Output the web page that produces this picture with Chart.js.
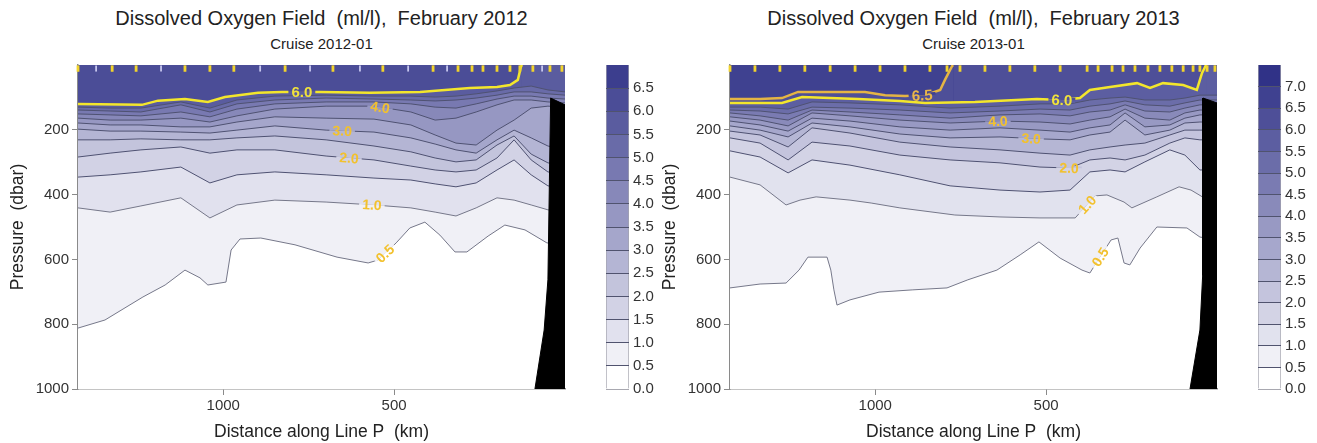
<!DOCTYPE html>
<html>
<head>
<meta charset="utf-8">
<script src="https://cdn.jsdelivr.net/npm/chart.js@4.4.1/dist/chart.umd.min.js"></script>
<style>
  html, body { margin: 0; padding: 0; background: #fff; overflow: hidden; }
  body { width: 1317px; height: 443px; position: relative; font-family: "Liberation Sans", Arial, sans-serif; }
  canvas { position: absolute; top: 0; }
  .title { position: absolute; text-align: center; color: #222; white-space: pre; }
  .t1 { top: 6px; font-size: 20px; line-height: 24px; }
  .t2 { top: 35px; font-size: 15px; line-height: 18px; }
</style>
</head>
<body>
<div class="title t1" style="left:0;width:643px">Dissolved Oxygen Field  (ml/l),  February 2012</div>
<div class="title t2" style="left:0;width:643px">Cruise 2012-01</div>
<div class="title t1" style="left:652px;width:643px">Dissolved Oxygen Field  (ml/l),  February 2013</div>
<div class="title t2" style="left:652px;width:643px">Cruise 2013-01</div>
<canvas id="sec2012" width="580" height="443" style="left:0"></canvas>
<canvas id="bar2012" width="64" height="443" style="left:600px"></canvas>
<canvas id="sec2013" width="580" height="443" style="left:652px"></canvas>
<canvas id="bar2013" width="64" height="443" style="left:1252px"></canvas>
<script>
const FONT = '"Liberation Sans", Arial, sans-serif';

// 軸
const xTicks = [1000, 500];
const yTicks = [200, 400, 600, 800, 1000];
const levels2012 = [0, 0.5, 1, 1.5, 2, 2.5, 3, 3.5, 4, 4.5, 5, 5.5, 6, 6.5, 7];
const levels2013 = [0, 0.5, 1, 1.5, 2, 2.5, 3, 3.5, 4, 4.5, 5, 5.5, 6, 6.5, 7, 7.5];

// ---- February 2012 (distance km, pressure dbar) ----
const grid12 = [1425, 1331, 1241, 1124, 1039, 960, 849, 699, 559, 451, 380, 319, 260, 199, 149, 99, 50, 0];
const o12_60 = [[1425,120],[1238,123],[1191,110],[1112,105],[1045,114],[995,99],[898,86],[828,83],[717,83],[571,86],[424,83],[278,71],[199,68],[161,62],[138,46],[129,6],[126,0],[0,0]];
const o12_55 = [130,133,133,114,133,108,96,93,96,96,99,96,89,80,71,65,77,83];
const o12_50 = [139,142,145,123,145,120,108,102,105,108,111,108,102,93,83,83,89,93];
const o12_45 = [151,154,157,145,160,136,120,114,114,120,130,133,120,105,96,96,102,105];
const o12_40 = [164,170,170,164,176,157,136,127,127,145,170,164,145,123,108,108,114,117];
const o12_35 = [179,185,185,191,191,176,160,164,167,185,216,241,247,201,170,133,127,130];
const o12_30 = [198,204,204,207,210,201,188,201,207,225,244,262,272,231,201,225,250,262];
const o12_25 = [231,231,228,231,231,225,219,231,250,268,287,299,293,247,219,275,302,312];
const o12_20 = [284,272,262,253,272,262,262,281,293,312,324,330,324,287,231,293,330,339];
const o12_15 = [346,339,330,315,364,339,330,339,349,355,367,376,364,324,293,339,373,380];
const o12_10 = [441,454,435,410,472,432,417,423,432,441,454,466,441,410,417,432,447,454];
const o12_05 = [[1425,812],[1346,787],[1235,716],[1170,679],[1112,633],[1068,657],[1045,679],[992,670],[977,571],[951,537],[890,534],[790,555],[667,593],[576,611],[547,602],[494,549],[454,503],[410,485],[366,525],[322,577],[287,577],[225,528],[176,494],[117,509],[53,549],[0,555]];
const slope12 = [[0,123],[42,102],[50,663],[61,818],[88,1000]];
const bottles12 = [1425,1325,1255,1112,1039,969,819,679,533,386,313,272,240,199,161,132,94,44,9];
const ctdOnly12 = [1372,1182,892,746,600,459,345,67];
const labels12 = [[6.0, 770], [4.0, 541], [3.0, 652], [2.0, 632], [1.0, 565], [0.5, 527]];

// ---- February 2013 ----
const grid13 = [1425, 1337, 1255, 1185, 1074, 928, 781, 635, 518, 430, 372, 313, 269, 211, 138, 94, 50, 0];
const o13_65 = [[1425,105],[1337,105],[1273,102],[1226,83],[1132,83],[1030,83],[971,93],[913,96],[854,93],[810,77],[796,46],[781,15],[775,3],[772,0],[0,0]];
const o13_60 = [[1425,117],[1337,117],[1273,117],[1214,99],[1132,102],[1050,105],[928,111],[854,117],[708,114],[527,105],[454,108],[401,102],[372,77],[313,68],[234,56],[196,71],[158,56],[99,62],[59,77],[44,25],[35,6],[32,0],[0,0]];
const o13_55 = [130,130,136,114,117,123,133,127,120,120,108,102,99,108,108,102,93,93];
const o13_50 = [139,142,151,130,133,139,148,142,136,139,127,120,111,123,127,117,108,108];
const o13_45 = [148,157,170,139,145,154,164,154,151,157,145,139,123,142,145,133,123,123];
const o13_40 = [160,170,188,148,157,170,179,173,176,182,170,160,136,164,170,148,139,139];
const o13_35 = [173,185,204,164,173,191,201,194,201,207,194,185,148,191,185,164,154,154];
const o13_30 = [188,201,222,179,191,213,225,222,228,231,216,207,170,216,201,179,176,176];
const o13_25 = [204,216,253,194,210,238,253,262,272,278,262,253,247,241,216,201,201,201];
const o13_20 = [225,241,293,238,250,278,293,302,315,318,293,287,293,278,241,225,231,231];
const o13_15 = [265,284,333,293,309,339,373,386,392,386,330,324,330,299,262,278,324,324];
const o13_10 = [[1425,346],[1337,370],[1261,432],[1220,417],[1173,407],[1074,417],[1012,426],[928,441],[767,463],[635,469],[518,472],[415,472],[357,404],[322,401],[272,423],[249,441],[176,407],[111,376],[76,386],[38,410],[0,417]];
const o13_05 = [[1425,688],[1337,676],[1261,673],[1223,633],[1197,593],[1141,593],[1130,633],[1121,694],[1112,741],[1074,725],[989,701],[890,694],[790,688],[729,663],[644,633],[576,586],[521,546],[459,596],[395,633],[372,642],[310,540],[290,534],[272,611],[255,617],[225,565],[176,500],[88,503],[50,531],[0,540]];
const slope13 = [[0,117],[41,102],[42,650],[50,818],[79,1000]];
const bottles13 = [1425,1352,1279,1206,1132,1059,986,913,840,790,752,679,606,533,459,380,348,307,275,240,202,167,132,99,70,50,29,6];
const ctdOnly13 = [];
const labels13 = [[6.5, 863], [6.0, 454], [4.0, 641], [3.0, 544], [2.0, 433], [1.0, 380], [0.5, 342]];

// 配色
function bandColors(n, end) {
    const out = [];
    for (let k = 0; k < n; k++) {
        const t = k / (n - 1);
        const c = [0, 1, 2].map(j => Math.round(255 + (end[j] - 255) * t));
        out.push(`rgb(${c[0]},${c[1]},${c[2]})`);
    }
    return out;
}
const colors12 = bandColors(levels2012.length - 1, [60, 62, 142]);
const colors13 = bandColors(levels2013.length - 1, [48, 50, 135]);

const onGrid = (grid, vals) => grid.map((d, i) => [d, vals[i]]);

// 等値線ラベル
function labelPlugin(items, colors) {
    return {
        id: 'contourLabels',
        afterDatasetsDraw(chart) {
            const ctx = chart.ctx;
            const xs = chart.scales.x, ys = chart.scales.y;
            items.forEach(([level, d]) => {
                const ds = chart.data.datasets.find(s => s.level === level);
                if (!ds) return;
                const pts = ds.data;
                let i = 0;
                while (i < pts.length - 2 && pts[i + 1].x > d) i++;
                const a = pts[i], b = pts[i + 1];
                const t = a.x === b.x ? 0 : (a.x - d) / (a.x - b.x);
                const p = a.y + (b.y - a.y) * t;
                const cx = xs.getPixelForValue(d), cy = ys.getPixelForValue(p);
                let ang = Math.atan2(ys.getPixelForValue(b.y) - ys.getPixelForValue(a.y),
                                     xs.getPixelForValue(b.x) - xs.getPixelForValue(a.x));
                if (ang > Math.PI / 2) ang -= Math.PI;
                if (ang < -Math.PI / 2) ang += Math.PI;
                const text = level.toFixed(1);
                ctx.save();
                ctx.font = `bold ${level >= 6 ? 15 : 14}px ${FONT}`;
                const w = ctx.measureText(text).width + 6;
                const h = (ds.borderWidth || 1) + 3;
                ctx.translate(cx, cy);
                ctx.rotate(ang);
                const k = Math.round(level * 2);
                ctx.fillStyle = colors[k];
                ctx.fillRect(-w / 2, -h / 2, w, h / 2);
                ctx.fillStyle = colors[k - 1];
                ctx.fillRect(-w / 2, 0, w, h / 2);
                ctx.fillStyle = level === 6.5 ? '#e8b64a' : (level === 6 ? '#f0e23c' : '#f2c12e');
                ctx.textAlign = 'center';
                ctx.textBaseline = 'middle';
                ctx.fillText(text, 0, 1);
                ctx.restore();
            });
        }
    };
}

function sectionChart(id, s) {
    const datasets = [];
    // 表層（最上位の帯）
    datasets.push({
        data: [{x: 1425, y: 0}, {x: 0, y: 0}],
        borderWidth: 0, pointRadius: 0,
        fill: {value: 1000}, backgroundColor: s.colors[s.topBand]
    });
    s.contours.forEach(c => {
        const k = Math.round(c.level * 2);
        datasets.push({
            level: c.level,
            data: c.pts.map(p => ({x: p[0], y: p[1]})),
            borderColor: c.color || (c.level <= 1 ? '#76788a' : '#4f5272'),
            borderWidth: c.width || 1,
            pointRadius: 0,
            fill: {value: 1000},
            backgroundColor: s.colors[k - 1],
            segment: {
                borderColor: ctx => (ctx.p0.parsed.y === 0 && ctx.p1.parsed.y === 0) ? 'rgba(0,0,0,0)' : undefined
            }
        });
    });
    // 陸棚斜面
    datasets.push({
        data: s.slope.map(p => ({x: p[0], y: p[1]})),
        borderColor: '#000', borderWidth: 1, pointRadius: 0,
        fill: {value: 1000}, backgroundColor: '#000'
    });
    // 観測点
    datasets.push({
        data: s.ctd.map(d => ({x: d, y: 11})),
        showLine: false, fill: false, clip: false,
        pointStyle: 'line', pointRotation: 90, pointRadius: 3,
        pointBorderWidth: 1.8, pointBorderColor: '#c6c6ee', borderColor: '#c6c6ee'
    });
    datasets.push({
        data: s.bottles.map(d => ({x: d, y: 11})),
        showLine: false, fill: false, clip: false,
        pointStyle: 'line', pointRotation: 90, pointRadius: 3.2,
        pointBorderWidth: 2.8, pointBorderColor: '#f2d42c', borderColor: '#f2d42c'
    });
    datasets.forEach((d, i) => { d.order = datasets.length - i; });

    const tickFont = {family: FONT, size: 15};
    const titleFont = {family: FONT, size: 17.5};
    new Chart(document.getElementById(id), {
        type: 'line',
        data: { datasets },
        plugins: [labelPlugin(s.labels, s.colors)],
        options: {
            responsive: false,
            animation: false,
            events: [],
            layout: { padding: { top: 65, right: 15, left: 0, bottom: 0 } },
            plugins: { legend: { display: false }, tooltip: { enabled: false } },
            scales: {
                x: {
                    type: 'linear', reverse: true, min: 0, max: 1425,
                    afterBuildTicks: sc => { sc.ticks = xTicks.map(v => ({value: v})); },
                    afterFit: sc => { sc.height = 54; },
                    ticks: { font: tickFont, color: '#333', padding: 2, callback: v => v },
                    grid: { drawOnChartArea: false, drawTicks: true, tickLength: 6, color: '#8a8a8a' },
                    border: { color: '#8a8a8a', width: 1.5 },
                    title: { display: true, text: 'Distance along Line P  (km)', font: titleFont, color: '#222', padding: {top: 0, bottom: 0} }
                },
                y: {
                    type: 'linear', reverse: true, min: 0, max: 1000,
                    afterBuildTicks: sc => { sc.ticks = yTicks.map(v => ({value: v})); },
                    afterFit: sc => { sc.width = 78; },
                    ticks: { font: tickFont, color: '#333', padding: 3, callback: v => v },
                    grid: { drawOnChartArea: false, drawTicks: true, tickLength: 6, color: '#8a8a8a' },
                    border: { color: '#8a8a8a', width: 1.5 },
                    title: { display: true, text: 'Pressure  (dbar)', font: titleFont, color: '#222', padding: {top: 8, bottom: 0} }
                }
            }
        }
    });
}

// カラーバー
function colorBar(id, levels, colors) {
    const max = levels[levels.length - 1];
    new Chart(document.getElementById(id), {
        type: 'bar',
        data: {
            labels: [''],
            datasets: colors.map((c, k) => ({
                data: [levels[k + 1] - levels[k]],
                backgroundColor: c,
                borderColor: '#a4a4ae',
                borderWidth: {left: 1, right: 1, top: 0, bottom: 0},
                borderSkipped: false,
                barPercentage: 1, categoryPercentage: 1
            }))
        },
        options: {
            responsive: false,
            animation: false,
            events: [],
            layout: { padding: { left: 6, top: 65, bottom: 54, right: 0 } },
            plugins: { legend: { display: false }, tooltip: { enabled: false } },
            scales: {
                x: { stacked: true, display: false },
                y: {
                    stacked: true, position: 'right', min: 0, max: max,
                    afterBuildTicks: sc => { sc.ticks = levels.map(v => ({value: v})); },
                    afterFit: sc => { sc.width = 35; },
                    ticks: { font: {family: FONT, size: 15}, color: '#333', padding: 4,
                             callback: v => v >= max ? '' : v.toFixed(1) },
                    grid: { z: 1, drawTicks: false, lineWidth: 1,
                            color: ctx => {
                                const v = ctx.tick ? ctx.tick.value : -1;
                                if (v >= max) return 'rgba(0,0,0,0)';
                                return v === 0 ? '#a8a8b0' : '#50536e';
                            } },
                    border: { display: false }
                }
            }
        }
    });
}

sectionChart('sec2012', {
    colors: colors12, topBand: 12,
    contours: [
        {level: 6.0, pts: o12_60, color: '#f3e62c', width: 2.5},
        {level: 5.5, pts: onGrid(grid12, o12_55)},
        {level: 5.0, pts: onGrid(grid12, o12_50)},
        {level: 4.5, pts: onGrid(grid12, o12_45)},
        {level: 4.0, pts: onGrid(grid12, o12_40)},
        {level: 3.5, pts: onGrid(grid12, o12_35)},
        {level: 3.0, pts: onGrid(grid12, o12_30)},
        {level: 2.5, pts: onGrid(grid12, o12_25)},
        {level: 2.0, pts: onGrid(grid12, o12_20)},
        {level: 1.5, pts: onGrid(grid12, o12_15)},
        {level: 1.0, pts: onGrid(grid12, o12_10)},
        {level: 0.5, pts: o12_05}
    ],
    slope: slope12, bottles: bottles12, ctd: ctdOnly12, labels: labels12
});

sectionChart('sec2013', {
    colors: colors13, topBand: 13,
    contours: [
        {level: 6.5, pts: o13_65, color: '#e4b444', width: 2.5},
        {level: 6.0, pts: o13_60, color: '#f3e62c', width: 2.5},
        {level: 5.5, pts: onGrid(grid13, o13_55)},
        {level: 5.0, pts: onGrid(grid13, o13_50)},
        {level: 4.5, pts: onGrid(grid13, o13_45)},
        {level: 4.0, pts: onGrid(grid13, o13_40)},
        {level: 3.5, pts: onGrid(grid13, o13_35)},
        {level: 3.0, pts: onGrid(grid13, o13_30)},
        {level: 2.5, pts: onGrid(grid13, o13_25)},
        {level: 2.0, pts: onGrid(grid13, o13_20)},
        {level: 1.5, pts: onGrid(grid13, o13_15)},
        {level: 1.0, pts: o13_10},
        {level: 0.5, pts: o13_05}
    ],
    slope: slope13, bottles: bottles13, ctd: ctdOnly13, labels: labels13
});

colorBar('bar2012', levels2012, colors12);
colorBar('bar2013', levels2013, colors13);
</script>
</body>
</html>
